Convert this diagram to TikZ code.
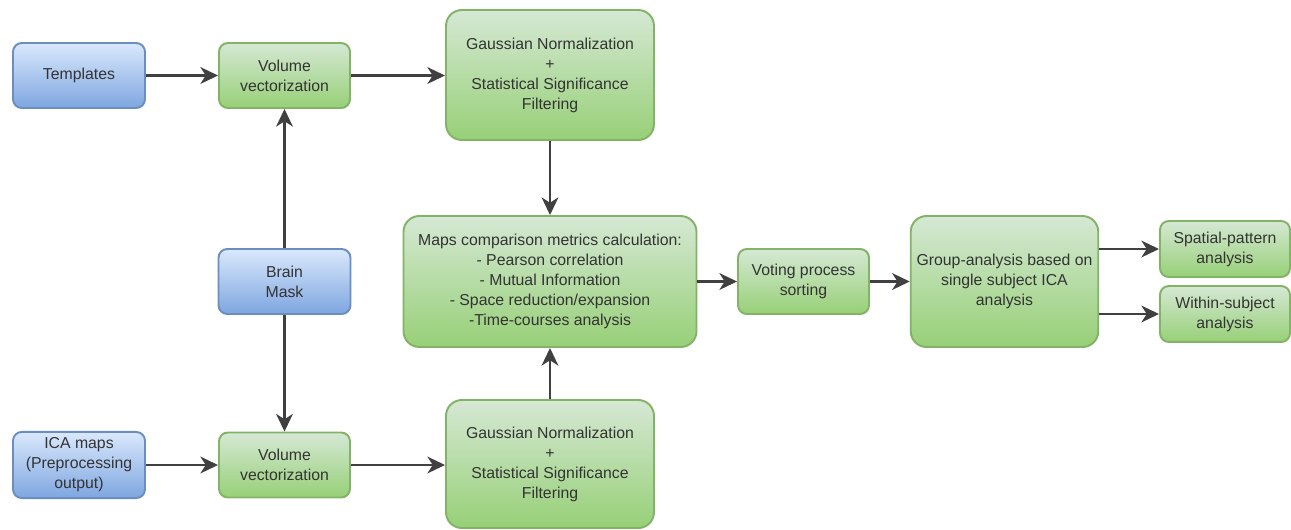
\documentclass[tikz,border=0pt]{standalone}
\usepackage{fontspec}
\setmainfont{Liberation Sans}
\usetikzlibrary{positioning,arrows.meta,calc}
\definecolor{inblue}{RGB}{108,142,191}
\definecolor{inbluetop}{RGB}{218,232,252}
\definecolor{inbluebot}{RGB}{126,166,224}
\definecolor{stepgreen}{RGB}{130,179,102}
\definecolor{stepgreentop}{RGB}{213,232,212}
\definecolor{stepgreenbot}{RGB}{151,208,119}
\definecolor{wire}{RGB}{64,64,64}
\definecolor{ink}{RGB}{51,51,51}

\begin{document}
\begin{tikzpicture}[font=\fontsize{9}{11.4}\selectfont, text=ink,
  inbox/.style={draw=inblue, line width=1.1pt, rounded corners=5pt, align=center,
    top color=inbluetop, bottom color=inbluebot, minimum width=2.64cm, minimum height=1.3cm},
  stepbox/.style={draw=stepgreen, line width=1.1pt, rounded corners=5pt, align=center,
    top color=stepgreentop, bottom color=stepgreenbot, minimum width=2.62cm, minimum height=1.3cm},
  bigbox/.style={stepbox, rounded corners=9pt},
  flow/.style={-{Stealth[length=10pt,width=9.5pt,inset=3pt]}, draw=wire, line width=1.4pt}]
  \useasboundingbox (0,0) rectangle (25.82,-10.58);

  % inputs
  \node[inbox] (tmpl) at (1.58,-1.51) {Templates};
  \node[inbox] (mask) at (5.69,-5.63) {Brain\\Mask};
  \node[inbox] (ica)  at (1.58,-9.30) {ICA maps\\(Preprocessing\\output)};

  % processing steps
  \node[stepbox] (vvA) at (5.69,-1.51) {Volume\\vectorization};
  \node[stepbox] (vvB) at (5.69,-9.30) {Volume\\vectorization};
  \node[bigbox, minimum width=4.16cm, minimum height=2.6cm] (gnA) at (11.0,-1.50)
    {Gaussian Normalization\\+\\Statistical Significance\\Filtering};
  \node[bigbox, minimum width=4.16cm, minimum height=2.56cm] (gnB) at (11.0,-9.28)
    {Gaussian Normalization\\+\\Statistical Significance\\Filtering};
  \node[bigbox, minimum width=5.86cm, minimum height=2.62cm] (maps) at (11.0,-5.63)
    {Maps comparison metrics calculation:\\- Pearson correlation\\- Mutual Information\\
     - Space reduction/expansion\\-Time-courses analysis};
  \node[stepbox] (vote) at (16.07,-5.63) {Voting process\\sorting};
  \node[bigbox, minimum width=3.7cm, minimum height=2.62cm] (group) at (20.09,-5.63)
    {Group-analysis based on\\single subject ICA\\analysis};
  \node[stepbox, minimum width=2.6cm, minimum height=1.12cm] (spat) at (24.5,-4.98)
    {Spatial-pattern\\analysis};
  \node[stepbox, minimum width=2.6cm, minimum height=1.12cm] (within) at (24.5,-6.28)
    {Within-subject\\analysis};

  % connectors
  \draw[flow] (tmpl) -- (vvA);
  \draw[flow] (vvA) -- (vvA -| gnA.west);
  \draw[flow] (ica) -- (vvB);
  \draw[flow] (vvB) -- (vvB -| gnB.west);
  \draw[flow] (mask) -- (vvA);
  \draw[flow] (mask) -- (vvB);
  \draw[flow] (gnA) -- (maps);
  \draw[flow] (gnB) -- (maps);
  \draw[flow] (maps) -- (vote);
  \draw[flow] (vote) -- (group);
  \draw[flow] (group.east |- spat.west) -- (spat.west);
  \draw[flow] (group.east |- within.west) -- (within.west);
\end{tikzpicture}
\end{document}
